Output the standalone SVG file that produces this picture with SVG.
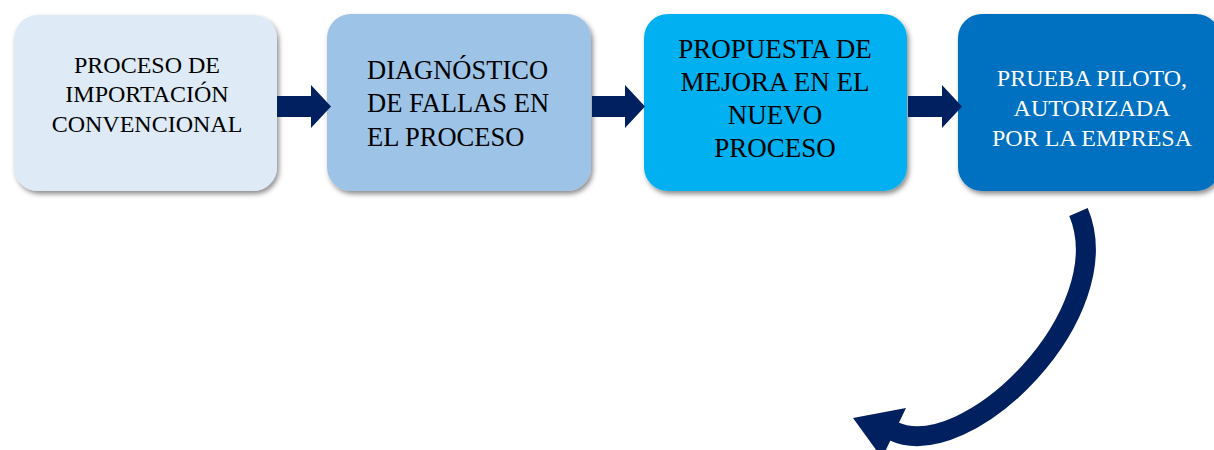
<svg xmlns="http://www.w3.org/2000/svg" width="1214" height="450" viewBox="0 0 1214 450">
<defs>
<filter id="sh" x="-10%" y="-10%" width="125%" height="130%">
<feDropShadow dx="2" dy="3" stdDeviation="2.5" flood-color="#000" flood-opacity="0.45"/>
</filter>
<style>
.t{font-family:"Liberation Serif","Times New Roman",serif;}
.dark{fill:#000;}
.light{fill:#fff;}
.arr{fill:#002060;}
</style>
</defs>
<rect width="1214" height="450" fill="#fff"/>
<g id="node1">
<rect x="14" y="15" width="263" height="176" rx="24" fill="#DEEAF6" filter="url(#sh)"/>
<text class="t dark" font-size="24" text-anchor="middle"><tspan x="147" y="73">PROCESO DE</tspan><tspan x="147" y="102">IMPORTACIÓN</tspan><tspan x="147" y="132">CONVENCIONAL</tspan></text>
</g>
<g id="node2">
<rect x="327" y="14" width="264" height="177" rx="24" fill="#9DC3E6" filter="url(#sh)"/>
<text class="t dark" font-size="26.5"><tspan x="367" y="79">DIAGNÓSTICO</tspan><tspan x="367" y="112">DE FALLAS EN</tspan><tspan x="367" y="146">EL PROCESO</tspan></text>
</g>
<g id="node3">
<rect x="644" y="14" width="263" height="177" rx="24" fill="#00B0F0" filter="url(#sh)"/>
<text class="t dark" font-size="27" text-anchor="middle"><tspan x="775" y="58">PROPUESTA DE</tspan><tspan x="775" y="91">MEJORA EN EL</tspan><tspan x="775" y="124">NUEVO</tspan><tspan x="775" y="157">PROCESO</tspan></text>
</g>
<g id="node4">
<rect x="958" y="14" width="262" height="177" rx="24" fill="#0070C0" filter="url(#sh)"/>
<text class="t light" font-size="24" text-anchor="middle"><tspan x="1092" y="86">PRUEBA PILOTO,</tspan><tspan x="1092" y="116">AUTORIZADA</tspan><tspan x="1092" y="146">POR LA EMPRESA</tspan></text>
</g>
<g id="connectors">
<polygon class="arr" points="277,96 311,96 311,85 331,106.5 311,128 311,117 277,117"/>
<polygon class="arr" points="592,96 625,96 625,85 645,106.5 625,128 625,117 592,117"/>
<polygon class="arr" points="908,96 942,96 942,85 962,106.5 942,128 942,117 908,117"/>
<path d="M1078.5,212 C1121,313 967,466 893,431" fill="none" stroke="#002060" stroke-width="20"/>
<polygon class="arr" points="853,418 906,408 882,458"/>
</g>
</svg>
